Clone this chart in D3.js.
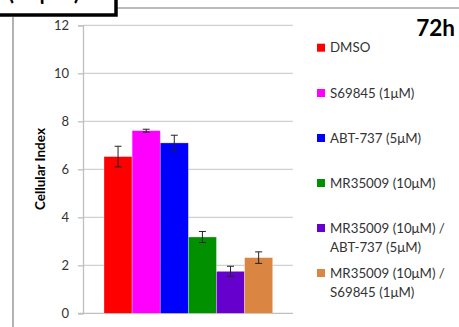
<!DOCTYPE html>
<html><head><meta charset="utf-8">
<script src="https://cdn.jsdelivr.net/npm/d3@7"></script>
<style>body{margin:0;background:#fff;}svg{display:block;}</style>
</head><body>
<svg id="c" width="459" height="327"></svg>
<script>
const categories = ["DMSO","S69845 (1μM)","ABT-737 (5μM)","MR35009 (10μM)","MR35009 (10μM) / ABT-737 (5μM)","MR35009 (10μM) / S69845 (1μM)"];
const legendLines = [["DMSO"],["S69845 (1μM)"],["ABT-737 (5μM)"],["MR35009 (10μM)"],["MR35009 (10μM) /","ABT-737 (5μM)"],["MR35009 (10μM) /","S69845 (1μM)"]];
const values = [6.53, 7.61, 7.10, 3.18, 1.75, 2.32];
const errors = [0.43, 0.06, 0.32, 0.23, 0.21, 0.24];
const colors = ["#FF0000","#FF00FF","#0000FF","#009000","#6600CC","#DA8541"];
const yTicks = [0,2,4,6,8,10,12];
const title = "72h";
const yLabel = "Cellular Index";
const boxText = "(20μM)";

const svg = d3.select("#c");
const font = "Lato, 'Open Sans', sans-serif";

// frame decorations
svg.append("line").attr("x1",117).attr("x2",459).attr("y1",8).attr("y2",8).attr("stroke","#a6a6a6").attr("stroke-width",1.5);
svg.append("line").attr("x1",13).attr("x2",13).attr("y1",17).attr("y2",327).attr("stroke","#808080").attr("stroke-width",1.2);
svg.append("rect").attr("x",-10).attr("y",-30).attr("width",126).attr("height",45).attr("fill","#fff").attr("stroke","#000").attr("stroke-width",3.5);
svg.append("text").attr("x",8).attr("y",0).attr("font-family",font).attr("font-size",22).attr("font-weight","bold").text(boxText);

const x0 = 83, x1 = 293;
const y = d3.scaleLinear().domain([0,12]).range([313.3,25.3]);
const xb = d3.scaleBand().domain(categories).range([104,272.7]).padding(0);

// gridlines
svg.append("g").selectAll("line").data(yTicks.filter(d=>d>0)).join("line")
  .attr("x1",x0).attr("x2",x1).attr("y1",d=>y(d)).attr("y2",d=>y(d))
  .attr("stroke","#d0d0d0").attr("stroke-width",1.3);

// axis
const ax = svg.append("g").attr("transform",`translate(${x0},0)`)
  .call(d3.axisLeft(y).tickValues(yTicks).tickSize(5).tickPadding(9));
ax.select(".domain").attr("stroke","#bfbfbf").attr("stroke-width",1.3);
ax.selectAll(".tick line").attr("stroke","#bfbfbf").attr("stroke-width",1.3);
ax.selectAll(".tick text").attr("font-family",font).attr("font-size",13).attr("fill","#333");
svg.append("line").attr("x1",x0-5).attr("x2",x1).attr("y1",y(0)).attr("y2",y(0)).attr("stroke","#bfbfbf").attr("stroke-width",1.3);

// bars
svg.append("g").selectAll("rect").data(values).join("rect")
  .attr("x",(d,i)=>xb(categories[i]))
  .attr("width",xb.bandwidth())
  .attr("y",d=>y(d)).attr("height",d=>y(0)-y(d))
  .attr("fill",(d,i)=>colors[i]).attr("stroke","#fff").attr("stroke-opacity",0.5).attr("stroke-width",0.6);

// error bars
const eg = svg.append("g").attr("stroke","#222").attr("stroke-width",1);
values.forEach((v,i)=>{
  const cx = xb(categories[i]) + xb.bandwidth()/2;
  eg.append("line").attr("x1",cx).attr("x2",cx).attr("y1",y(v+errors[i])).attr("y2",y(v-errors[i]));
  eg.append("line").attr("x1",cx-3.5).attr("x2",cx+3.5).attr("y1",y(v+errors[i])).attr("y2",y(v+errors[i]));
  eg.append("line").attr("x1",cx-3.5).attr("x2",cx+3.5).attr("y1",y(v-errors[i])).attr("y2",y(v-errors[i]));
});

// y label
svg.append("text").attr("transform","translate(45,169) rotate(-90)").attr("text-anchor","middle")
  .attr("font-family",font).attr("font-size",13.5).attr("font-weight","bold").text(yLabel);

// title
svg.append("text").attr("x",455).attr("y",36).attr("text-anchor","end")
  .attr("font-family",font).attr("font-size",22.5).attr("font-weight","bold").text(title);

// legend
const legY = [47.7, 93, 138, 183, 228, 273];
const lg = svg.append("g");
legendLines.forEach((lines,i)=>{
  lg.append("rect").attr("x",317).attr("y",legY[i]-4).attr("width",8).attr("height",8).attr("fill",colors[i]);
  lines.forEach((t,j)=>{
    lg.append("text").attr("x",330).attr("y",legY[i]+4.5+j*19.5).attr("font-family",font).attr("font-size",13.3).attr("fill","#333").text(t);
  });
});
</script>
</body></html>
